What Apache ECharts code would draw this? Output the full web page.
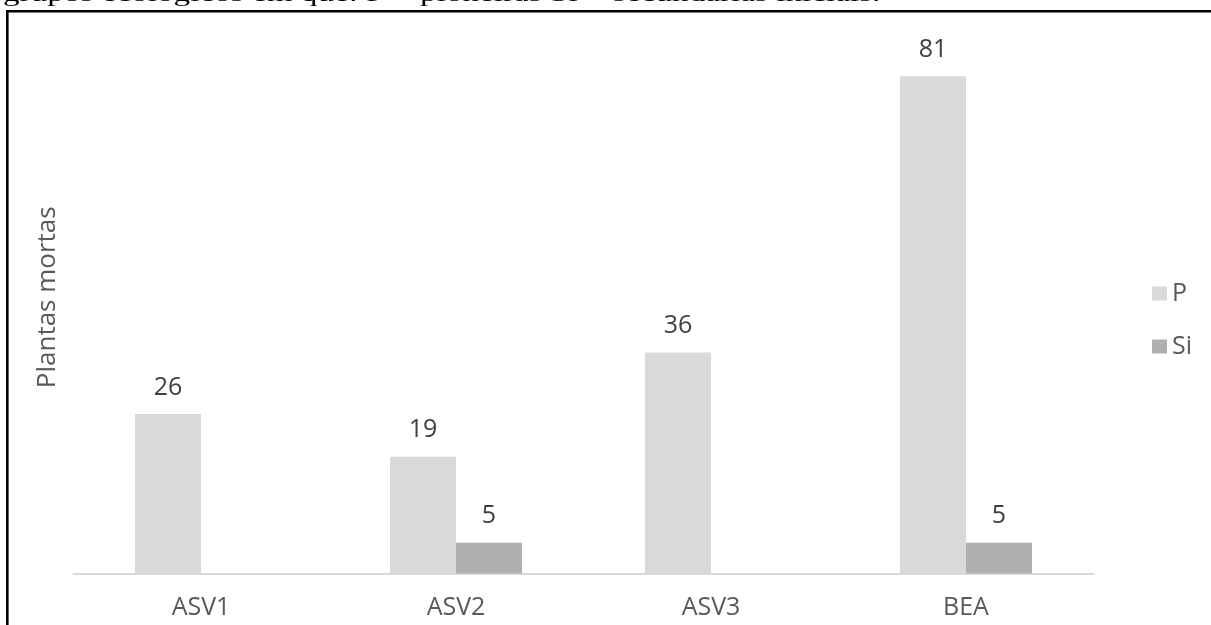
<!DOCTYPE html>
<html>
<head>
<meta charset="utf-8">
<script src="https://cdn.jsdelivr.net/npm/echarts@6/dist/echarts.min.js"></script>
<style>
html,body{margin:0;padding:0;background:#fff;}
#c{width:1211px;height:625px;}
</style>
</head>
<body>
<div id="c"></div>
<script>
const categories = ['ASV1', 'ASV2', 'ASV3', 'BEA'];
const seriesNames = ['P', 'Si'];
const valuesP = [26, 19, 36, 81];
const valuesSi = [null, 5, null, 5];
const yAxisName = 'Plantas mortas';
const captionText = 'grupos ecológicos em que: P = pioneiras Si = secundárias iniciais.';

const chart = echarts.init(document.getElementById('c'), null, {renderer: 'canvas'});
const font = '"Open Sans", sans-serif';
chart.setOption({
  animation: false,
  backgroundColor: '#ffffff',
  graphic: [
    {
      type: 'text', left: 3, top: -14, silent: true,
      scaleX: 1.66,
      style: {text: captionText, font: '20px "Liberation Serif", serif', fill: '#000'}
    },
    {
      type: 'rect', silent: true,
      shape: {x: 7.3, y: 11.3, width: 1400, height: 800},
      style: {fill: 'none', stroke: '#000', lineWidth: 2.6}
    }
  ],
  legend: {
    orient: 'vertical',
    left: 1147, top: 276,
    itemWidth: 15, itemHeight: 14,
    itemGap: 28,
    icon: 'rect',
    data: seriesNames,
    textStyle: {color: '#595959', fontSize: 25, fontFamily: font, lineHeight: 20}
  },
  grid: {left: 73.5, right: 117.5, top: 21, bottom: 51.5, containLabel: false, outerBoundsMode: 'none'},
  xAxis: {
    type: 'category',
    data: categories,
    axisLine: {lineStyle: {color: '#d9d9d9', width: 2}},
    axisTick: {show: false},
    axisLabel: {color: '#595959', fontSize: 25, fontFamily: font, margin: 22}
  },
  yAxis: {
    type: 'value', min: 0, max: 90,
    axisLine: {show: false}, axisTick: {show: false},
    axisLabel: {show: false}, splitLine: {show: false},
    name: yAxisName, nameLocation: 'middle', nameRotate: 90, nameGap: 13,
    nameTextStyle: {color: '#595959', fontSize: 26, fontFamily: font}
  },
  series: [
    {
      name: seriesNames[0], type: 'bar', data: valuesP,
      barWidth: 66, barGap: '0%',
      itemStyle: {color: '#d9d9d9'},
      label: {show: true, position: 'top', distance: 14, color: '#404040', fontSize: 25, fontFamily: font}
    },
    {
      name: seriesNames[1], type: 'bar', data: valuesSi,
      barWidth: 66, barGap: '0%',
      itemStyle: {color: '#afafaf'},
      label: {show: true, position: 'top', distance: 14, color: '#404040', fontSize: 25, fontFamily: font}
    }
  ]
});
</script>
</body>
</html>
